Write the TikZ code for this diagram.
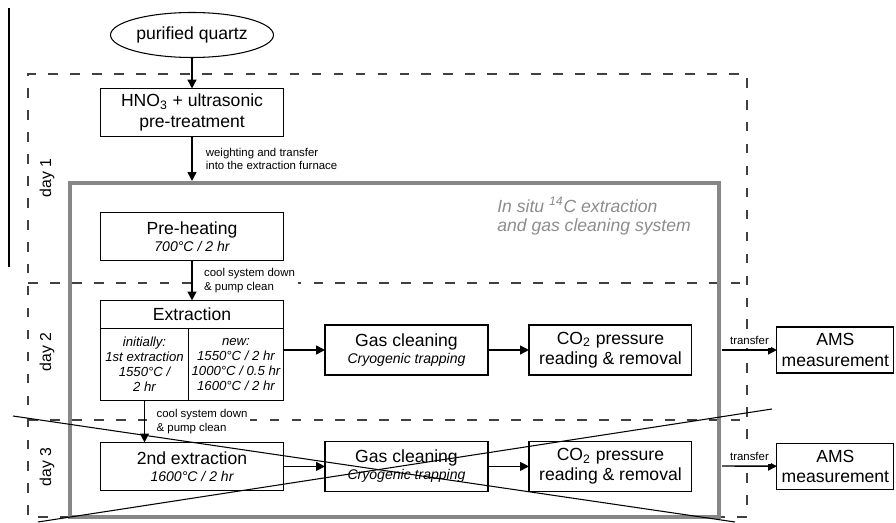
\documentclass[tikz,border=0pt]{standalone}
\usepackage{fontspec}
\setmainfont{Liberation Sans}
\usetikzlibrary{arrows.meta,positioning,shapes.geometric}
\newcommand{\condtext}[1]{{\fontsize{8}{9.5}\selectfont\itshape #1}}

\begin{document}
\begin{tikzpicture}[
    x=0.02cm, y=0.02cm,
    node distance=0.8cm and 0.84cm,
    box/.style={
        draw=black,
        fill=white,
        line width=0.6pt,
        outer sep=0pt,
        minimum width=3.66cm,
        minimum height=0.96cm,
        inner sep=1pt,
        align=center,
        font=\fontsize{10}{11.5}\selectfont
    },
    gasbox/.style={
        box,
        minimum width=3.26cm,
        minimum height=1cm
    },
    amsbox/.style={
        box,
        minimum width=2.34cm,
        minimum height=0.92cm
    },
    colbox/.style={
        draw=black,
        line width=0.6pt,
        outer sep=0pt,
        minimum height=1.44cm,
        inner sep=1pt,
        align=center,
        font=\fontsize{7.5}{8.6}\selectfont\itshape
    },
    arrow/.style={-{Triangle[length=5pt,width=5pt]}, line width=0.8pt},
    every edge/.style={draw,arrow},
    mylabel/.style={font=\fontsize{6.5}{7.6}\selectfont, align=left, fill=white, inner sep=1.5pt},
    daylabel/.style={rotate=90, font=\fontsize{9}{10}\selectfont},
    dayframe/.style={draw=black!75, line width=1.2pt, dash pattern=on 5.5pt off 7pt},
    sysframe/.style={draw=black!47, line width=2.8pt},
    crossline/.style={draw=black, line width=0.6pt},
    ]
    \useasboundingbox (0,0) rectangle (896,-523);

    \draw[line width=0.6pt] (9,-8) -- (9,-267);
    \draw[dayframe] (70,-517) -- (28,-517) -- (28,-74) -- (747,-74) -- (747,-517) -- (719,-517);
    \draw[dayframe] (28,-283) -- (747,-283);
    \draw[dayframe] (28,-420) -- (747,-420);
    \draw[sysframe] (70,-183) rectangle (719,-517);

    \node[daylabel] (day1) at (47,-178) {day 1};
    \node[daylabel] (day2) at (47,-352) {day 2};
    \node[daylabel] (day3) at (47,-467) {day 3};

    \node[anchor=north west, inner sep=0pt, align=left, text=black!45,
        font=\fontsize{10}{11}\selectfont\itshape] (systitle) at (497,-197)
        {In situ \textsuperscript{14}C extraction\\and gas cleaning system};

    \node[box, ellipse, minimum width=3.26cm, minimum height=0.9cm] (quartz) at (192,-35) {purified quartz};
    \node[box, below=0.62cm of quartz] (hno3) {HNO\textsubscript{3} + ultrasonic\\pre-treatment};
    \node[box, below=1.52cm of hno3] (preheat) {Pre-heating\\[-2pt]\condtext{700°C / 2 hr}};
    \node[box, below=0.8cm of preheat, minimum height=0.56cm] (extract) {Extraction};
    \node[colbox, anchor=north west, minimum width=1.76cm] (initial) at (extract.south west)
        {initially:\\1st extraction\\1550°C /\\2 hr};
    \node[colbox, anchor=north west, minimum width=1.9cm] (newcol) at (initial.north east)
        {new:\\1550°C / 2 hr\\1000°C / 0.5 hr\\1600°C / 2 hr};
    \node[box, anchor=north] (second) at ([yshift=-0.84cm]initial.south -| extract.south)
        {2nd extraction\\[-2pt]\condtext{1600°C / 2 hr}};

    \node[gasbox] (gas1) at (406.5,-350) {Gas cleaning\\[-2pt]\condtext{Cryogenic trapping}};
    \node[gasbox, right=0.82cm of gas1] (co2a) {CO\textsubscript{2} pressure\\reading \& removal};
    \node[amsbox, right=1.7cm of co2a] (ams1) {AMS\\measurement};
    \node[gasbox] (gas2) at (gas1 |- second) {Gas cleaning\\[-2pt]\condtext{Cryogenic trapping}};
    \node[gasbox, right=0.82cm of gas2] (co2b) {CO\textsubscript{2} pressure\\reading \& removal};
    \node[amsbox, right=1.7cm of co2b] (ams2) {AMS\\measurement};

    \coordinate (sysin) at (hno3.south |- 0,-181);
    \coordinate (extout) at (newcol.east |- gas1.west);
    \coordinate (ext2in) at (initial.south |- second.north);
    \coordinate (out1) at (722,-350);
    \coordinate (out2) at (722,-466);

    \path
        (quartz) edge (hno3)
        (hno3) edge node[mylabel, right=6pt] {weighting and transfer\\into the extraction furnace} (sysin)
        (preheat) edge node[mylabel, right=5pt] {cool system down\\\& pump clean} (extract)
        (initial) edge node[mylabel, right=5pt] {cool system down\\\& pump clean} (ext2in)
        (extout) edge (gas1)
        (gas1) edge (co2a)
        (out1) edge node[mylabel, above=1pt] {transfer} (ams1)
        (second) edge (gas2)
        (gas2) edge (co2b)
        (out2) edge node[mylabel, above=1pt] {transfer} (ams2);

    \draw[crossline] (13,-416) -- (735,-522);
    \draw[crossline] (38,-522) -- (772,-409);
\end{tikzpicture}
\end{document}
